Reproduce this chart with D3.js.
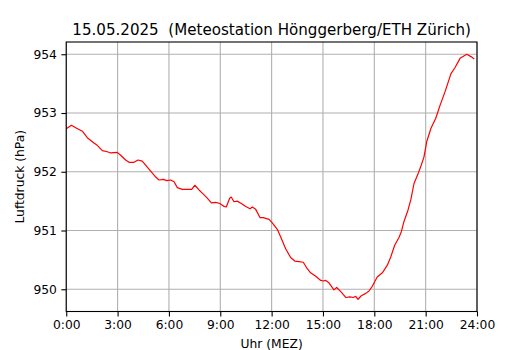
<!DOCTYPE html>
<html>
<head>
<meta charset="utf-8">
<script src="https://cdn.jsdelivr.net/npm/d3@7"></script>
<style>
  body { margin: 0; background: #fff; }
  svg { display: block; font-family: "DejaVu Sans", sans-serif; }
</style>
</head>
<body>
<svg width="530" height="350"></svg>
<script>
const svg = d3.select("svg");

const titleText = "15.05.2025  (Meteostation Hönggerberg/ETH Zürich)";
const xLabel = "Uhr (MEZ)";
const yLabel = "Luftdruck (hPa)";

// time of day in hours
const hours = [
  0.00, 0.30, 0.55, 0.94, 1.23, 1.62, 1.81, 2.11, 2.40, 2.60,
  2.98, 3.18, 3.47, 3.67, 3.96, 4.19, 4.44, 4.70, 4.93, 5.23,
  5.42, 5.67, 5.87, 6.10, 6.30, 6.49, 6.78, 7.07, 7.33, 7.51,
  7.76, 8.01, 8.24, 8.48, 8.73, 8.98, 9.22, 9.35, 9.55, 9.64,
  9.80, 9.99, 10.23, 10.49, 10.74, 10.87, 11.07, 11.32, 11.51, 11.85,
  12.04, 12.33, 12.53, 12.82, 13.11, 13.35, 13.60, 13.85, 14.08, 14.28,
  14.58, 14.87, 15.02, 15.16, 15.35, 15.64, 15.80, 16.07, 16.33, 16.58,
  16.77, 16.91, 17.05, 17.24, 17.50, 17.69, 17.88, 18.17, 18.47, 18.76,
  18.96, 19.19, 19.44, 19.58, 19.73, 19.97, 20.13, 20.32, 20.55, 20.74,
  20.90, 21.06, 21.31, 21.59, 21.84, 22.13, 22.48, 22.71, 23.01, 23.40,
  23.65, 23.84
];

// air pressure in hPa
const pressure = [
  952.73, 952.79, 952.75, 952.69, 952.58, 952.49, 952.45, 952.36, 952.34, 952.32,
  952.33, 952.28, 952.20, 952.16, 952.16, 952.20, 952.18, 952.09, 952.01, 951.91,
  951.86, 951.87, 951.85, 951.86, 951.83, 951.73, 951.70, 951.70, 951.70, 951.77,
  951.69, 951.62, 951.55, 951.47, 951.48, 951.46, 951.41, 951.40, 951.55, 951.57,
  951.49, 951.50, 951.46, 951.41, 951.37, 951.40, 951.36, 951.22, 951.22, 951.19,
  951.13, 951.02, 950.89, 950.69, 950.54, 950.48, 950.47, 950.46, 950.35, 950.28,
  950.22, 950.15, 950.14, 950.15, 950.11, 949.99, 950.03, 949.95, 949.86, 949.87,
  949.86, 949.88, 949.83, 949.89, 949.93, 949.97, 950.05, 950.21, 950.28, 950.41,
  950.55, 950.75, 950.88, 950.98, 951.15, 951.35, 951.52, 951.80, 951.96, 952.11,
  952.25, 952.51, 952.74, 952.91, 953.13, 953.36, 953.67, 953.77, 953.93, 954.00,
  953.96, 953.92
];

const xTicks = [0, 3, 6, 9, 12, 15, 18, 21, 24];
const yTicks = [950, 951, 952, 953, 954];

const data = hours.map((h, i) => ({ h: h, p: pressure[i] }));

// axes box, same as matplotlib's default subplot position
const margin = { left: 66.25, right: 477, top: 42, bottom: 311.5 };
const width = margin.right - margin.left;
const height = margin.bottom - margin.top;

// y limits with 5% margin like matplotlib autoscale
const pMin = d3.min(pressure), pMax = d3.max(pressure);
const pad = (pMax - pMin) * 0.05;

const xScale = d3.scaleLinear().domain([0, 24]).range([0, width]);
const yScale = d3.scaleLinear().domain([pMin - pad, pMax + pad]).range([height, 0]);

const chart = svg.append("g")
    .attr("transform", `translate(${margin.left},${margin.top})`);

// grid lines
const grid = chart.append("g").attr("class", "grid");
grid.selectAll(".vgrid").data(xTicks)
  .enter().append("line")
    .attr("x1", d => xScale(d)).attr("x2", d => xScale(d))
    .attr("y1", 0).attr("y2", height)
    .attr("stroke", "#b0b0b0").attr("stroke-width", 1.1);
grid.selectAll(".hgrid").data(yTicks)
  .enter().append("line")
    .attr("x1", 0).attr("x2", width)
    .attr("y1", d => yScale(d)).attr("y2", d => yScale(d))
    .attr("stroke", "#b0b0b0").attr("stroke-width", 1.1);

// pressure line
const line = d3.line()
    .x(d => xScale(d.h))
    .y(d => yScale(d.p));

chart.append("path")
    .datum(data)
    .attr("d", line)
    .attr("fill", "none")
    .attr("stroke", "red")
    .attr("stroke-width", 1.2)
    .attr("stroke-linejoin", "round");

// axes
const xAxis = d3.axisBottom(xScale)
    .tickValues(xTicks)
    .tickFormat(d => d + ":00")
    .tickSize(4.9)
    .tickPadding(4)
    .tickSizeOuter(0);

const yAxis = d3.axisLeft(yScale)
    .tickValues(yTicks)
    .tickFormat(d3.format("d"))
    .tickSize(4.9)
    .tickPadding(4.5)
    .tickSizeOuter(0);

const gx = chart.append("g")
    .attr("transform", `translate(0,${height})`)
    .call(xAxis);
const gy = chart.append("g").call(yAxis);

[gx, gy].forEach(g => {
    g.select(".domain").remove();
    g.selectAll("line").attr("stroke", "#000").attr("stroke-width", 1.1);
    g.selectAll("text")
        .attr("fill", "#000")
        .style("font-size", "12.3px")
        .style("font-family", "DejaVu Sans, sans-serif");
});

// frame
chart.append("rect")
    .attr("width", width)
    .attr("height", height)
    .attr("fill", "none")
    .attr("stroke", "#000")
    .attr("stroke-width", 1.1);

// title and labels
svg.append("text")
    .attr("x", margin.left + width / 2)
    .attr("y", margin.top - 7.5)
    .attr("text-anchor", "middle")
    .style("font-size", "15.1px")
    .style("white-space", "pre")
    .text(titleText);

svg.append("text")
    .attr("x", margin.left + width / 2)
    .attr("y", 348)
    .attr("text-anchor", "middle")
    .style("font-size", "12.3px")
    .text(xLabel);

svg.append("text")
    .attr("transform", `translate(24,${margin.top + height / 2}) rotate(-90)`)
    .attr("text-anchor", "middle")
    .style("font-size", "12.3px")
    .text(yLabel);
</script>
</body>
</html>
